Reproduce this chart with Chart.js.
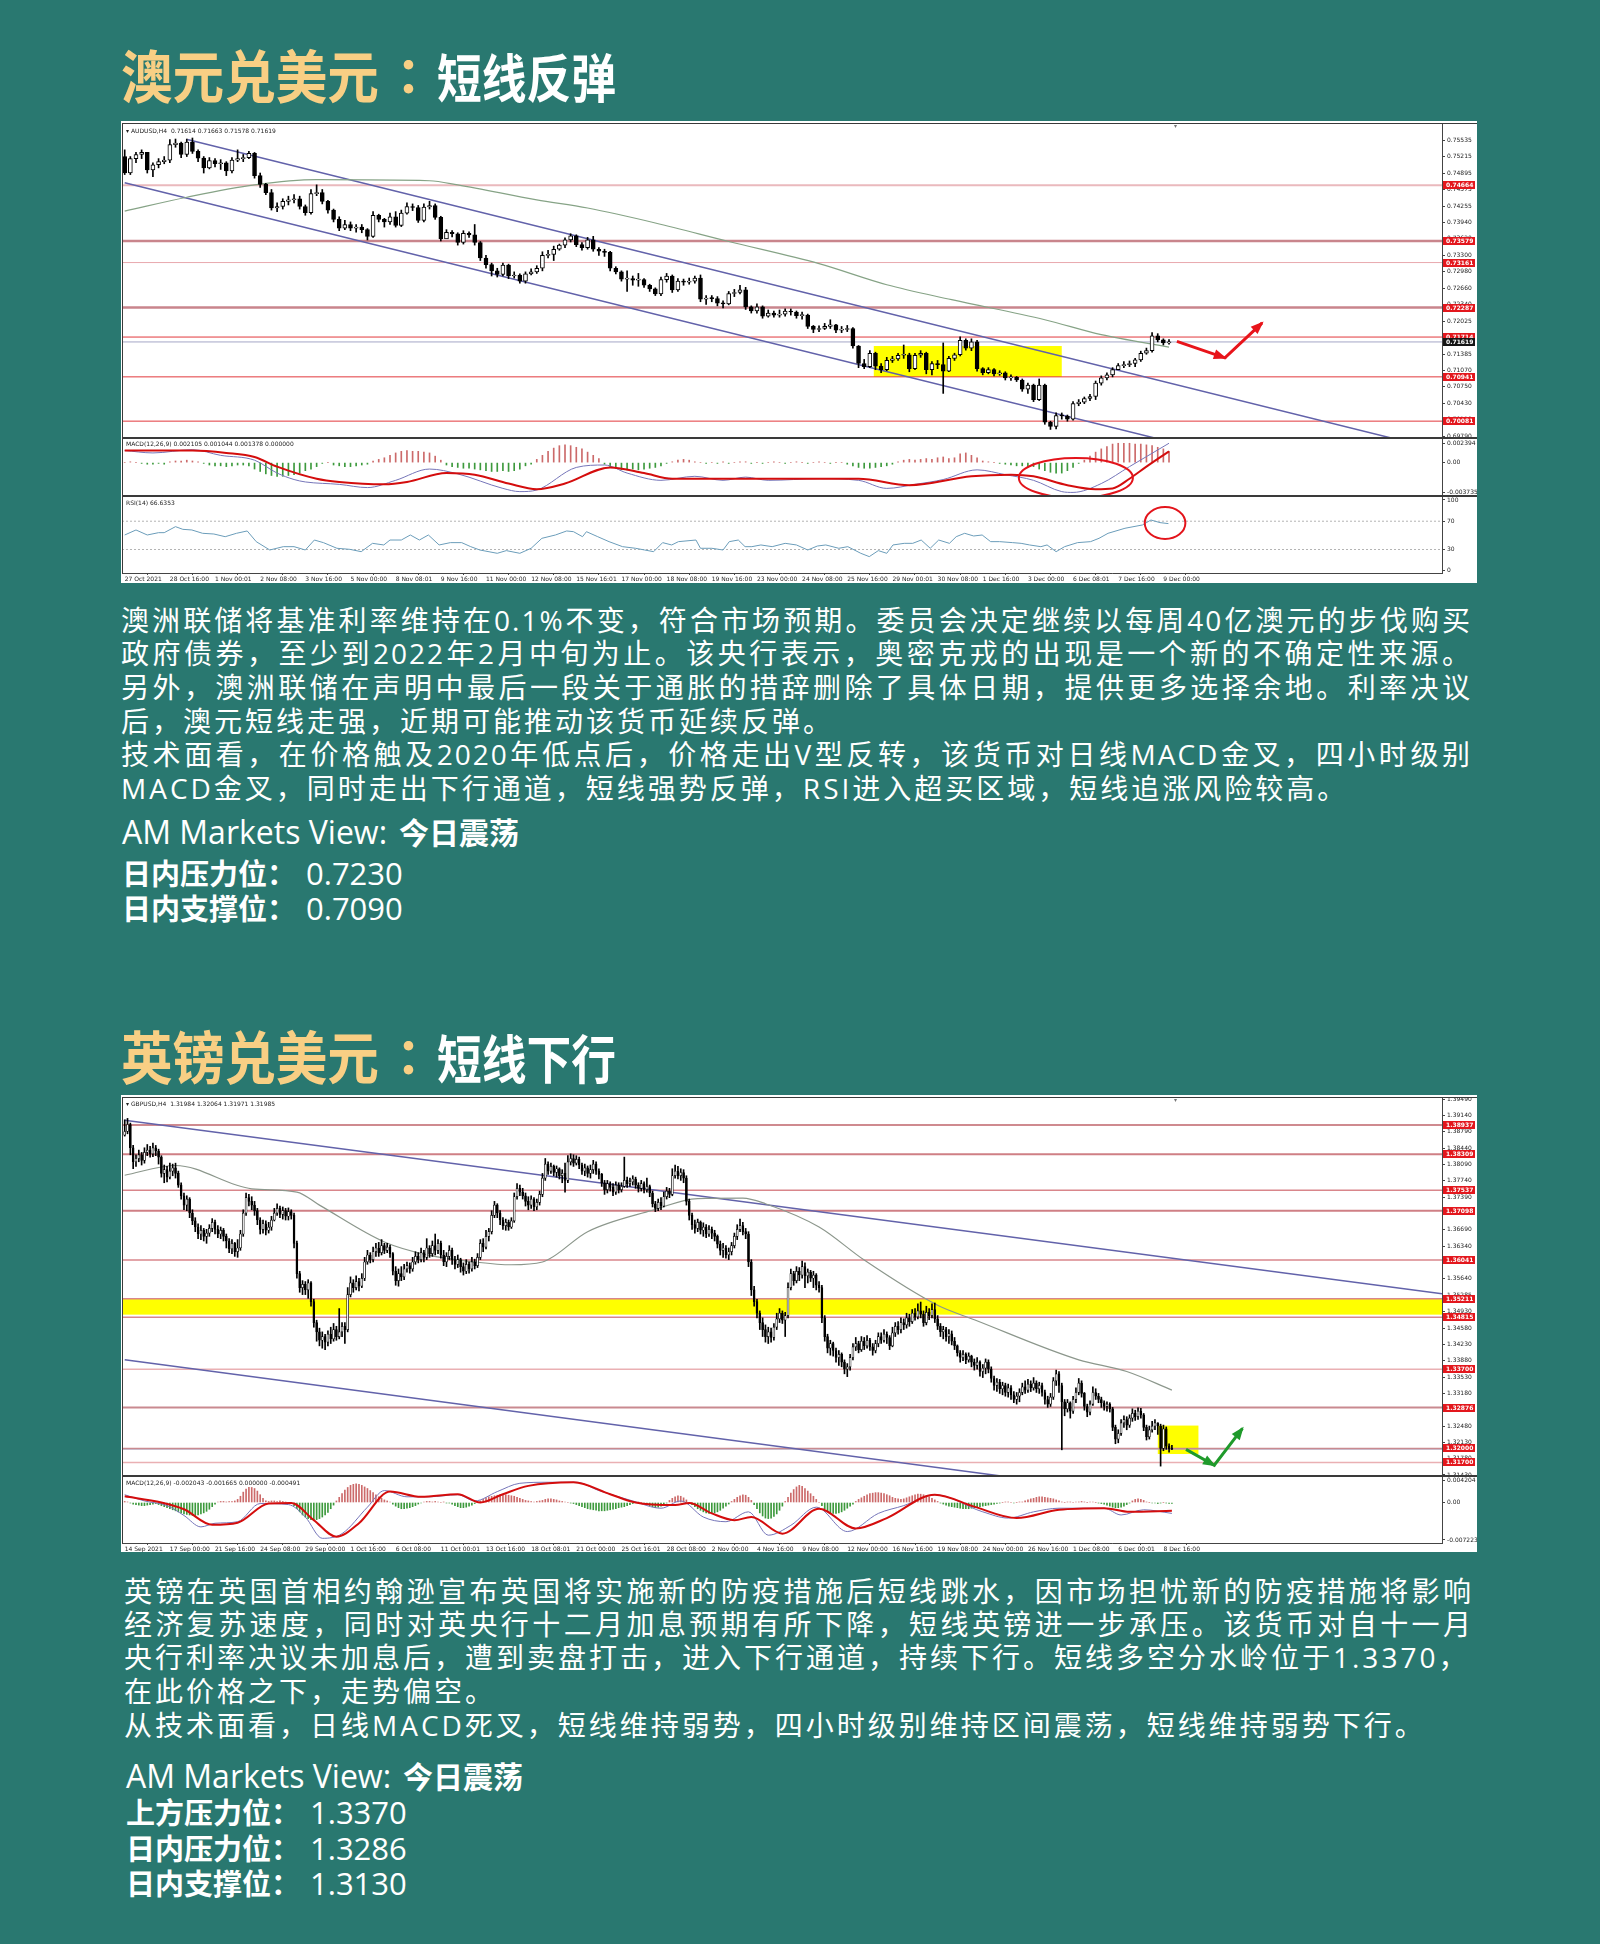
<!DOCTYPE html>
<html lang="zh-CN">
<head>
<meta charset="utf-8">
<title>澳元兑美元 / 英镑兑美元</title>
<script src="https://cdn.jsdelivr.net/npm/chart.js@4.4.1/dist/chart.umd.min.js"></script>
<style>
  html, body { margin: 0; padding: 0; }
  body { width: 1600px; height: 1944px; position: relative; overflow: hidden; background: #297870;
         font-family: "Noto Sans CJK SC", sans-serif; color: #fff; }
  .t { position: absolute; line-height: 1; white-space: nowrap; }
  .ti { position: absolute; line-height: 1; white-space: nowrap; font-weight: 700; transform-origin: 0 0; }
  .ti.o { left: 121px; font-size: 57px; transform: scaleX(0.905); color: #f8cf84; }
  .ti.c { left: 396px; font-size: 50px; color: #f8cf84; }
  .ti.w { left: 437px; font-size: 52px; transform: scaleX(0.86); color: #fff; }
  .p { font-size: 28px; letter-spacing: 3px; font-family: "Open Sans", "Noto Sans CJK SC", sans-serif; }
  .j { letter-spacing: 2px; text-align: justify; text-align-last: justify; }
  .view { font-size: 32px; font-family: "Open Sans", "Noto Sans CJK SC", sans-serif; }
  .view b { font-family: "Noto Sans CJK SC", sans-serif; font-size: 30px; font-weight: 700; margin-left: 12px; }
  .lv { font-size: 31px; font-family: "Open Sans", "Noto Sans CJK SC", sans-serif; }
  .lv b { font-family: "Noto Sans CJK SC", sans-serif; font-size: 29px; font-weight: 700; }
  .lv span { margin-left: 10px; }
  .box { position: absolute; left: 121px; width: 1356px; background: #fff; z-index: 0; }
  #charts { position: absolute; left: 0; top: 0; z-index: 1; }
  #charts canvas { position: absolute; }
  .ln { position: absolute; background: #3a3a3a; z-index: 2; }
  .cap { position: absolute; font: 6px "DejaVu Sans", sans-serif; color: #222; white-space: nowrap; line-height: 1; z-index: 2; }
</style>
</head>
<body>

<div class="ti o" style="top:45px">澳元兑美元</div>
<div class="ti c" style="top:46px">：</div>
<div class="ti w" style="top:50px">短线反弹</div>
<div class="box" style="top:121px;height:462px"></div>

<div class="t p j" style="left:121px;top:606px;width:1351px">澳洲联储将基准利率维持在0.1%不变，符合市场预期。委员会决定继续以每周40亿澳元的步伐购买</div>
<div class="t p j" style="left:121px;top:639px;width:1351px">政府债券，至少到2022年2月中旬为止。该央行表示，奥密克戎的出现是一个新的不确定性来源。</div>
<div class="t p j" style="left:121px;top:673px;width:1351px">另外，澳洲联储在声明中最后一段关于通胀的措辞删除了具体日期，提供更多选择余地。利率决议</div>
<div class="t p" style="left:121px;top:707px">后，澳元短线走强，近期可能推动该货币延续反弹。</div>
<div class="t p j" style="left:121px;top:740px;width:1351px">技术面看，在价格触及2020年低点后，价格走出V型反转，该货币对日线MACD金叉，四小时级别</div>
<div class="t p" style="left:121px;top:774px">MACD金叉，同时走出下行通道，短线强势反弹，RSI进入超买区域，短线追涨风险较高。</div>
<div class="t view" style="left:122px;top:816px">AM Markets View:<b>今日震荡</b></div>
<div class="t lv" style="left:122px;top:858px"><b>日内压力位：</b><span>0.7230</span></div>
<div class="t lv" style="left:122px;top:893px"><b>日内支撑位：</b><span>0.7090</span></div>

<div class="ti o" style="top:1026px">英镑兑美元</div>
<div class="ti c" style="top:1027px">：</div>
<div class="ti w" style="top:1031px">短线下行</div>
<div class="box" style="top:1095px;height:457px"></div>

<div class="t p j" style="left:124px;top:1577px;width:1349px">英镑在英国首相约翰逊宣布英国将实施新的防疫措施后短线跳水，因市场担忧新的防疫措施将影响</div>
<div class="t p j" style="left:124px;top:1610px;width:1349px">经济复苏速度，同时对英央行十二月加息预期有所下降，短线英镑进一步承压。该货币对自十一月</div>
<div class="t p" style="left:124px;top:1643px">央行利率决议未加息后，遭到卖盘打击，进入下行通道，持续下行。短线多空分水岭位于1.3370，</div>
<div class="t p" style="left:124px;top:1677px">在此价格之下，走势偏空。</div>
<div class="t p" style="left:124px;top:1711px">从技术面看，日线MACD死叉，短线维持弱势，四小时级别维持区间震荡，短线维持弱势下行。</div>
<div class="t view" style="left:126px;top:1760px">AM Markets View:<b>今日震荡</b></div>
<div class="t lv" style="left:126px;top:1797px"><b>上方压力位：</b><span>1.3370</span></div>
<div class="t lv" style="left:126px;top:1833px"><b>日内压力位：</b><span>1.3286</span></div>
<div class="t lv" style="left:126px;top:1868px"><b>日内支撑位：</b><span>1.3130</span></div>

<div id="charts"></div>

<!-- MT4 window frames -->
<div class="ln" style="left:122px;top:123px;width:1355px;height:1px"></div>
<div class="ln" style="left:122px;top:123px;width:1px;height:450px"></div>
<div class="ln" style="left:122px;top:437px;width:1355px;height:2px"></div>
<div class="ln" style="left:122px;top:495px;width:1355px;height:2px"></div>
<div class="ln" style="left:122px;top:1097px;width:1355px;height:1px"></div>
<div class="ln" style="left:122px;top:1097px;width:1px;height:446px"></div>
<div class="ln" style="left:122px;top:1475px;width:1355px;height:2px"></div>

<div class="cap" style="left:126px;top:128px">▾ AUDUSD,H4 &nbsp;0.71614 0.71663 0.71578 0.71619</div>
<div class="cap" style="left:126px;top:441px">MACD(12,26,9) 0.002105 0.001044 0.001378 0.000000</div>
<div class="cap" style="left:126px;top:500px">RSI(14) 66.6353</div>
<div class="cap" style="left:1174px;top:123px;color:#777">▾</div>
<div class="cap" style="left:126px;top:1101px">▾ GBPUSD,H4 &nbsp;1.31984 1.32064 1.31971 1.31985</div>
<div class="cap" style="left:126px;top:1480px">MACD(12,26,9) -0.002043 -0.001665 0.000000 -0.000491</div>
<div class="cap" style="left:1174px;top:1097px;color:#777">▾</div>

<script>
// ================= AUDUSD H4 =================
const audDates = ['27 Oct 2021','28 Oct 16:00','1 Nov 00:01','2 Nov 08:00','3 Nov 16:00','5 Nov 00:00',
  '8 Nov 08:01','9 Nov 16:00','11 Nov 00:00','12 Nov 08:00','15 Nov 16:01','17 Nov 00:00','18 Nov 08:00',
  '19 Nov 16:00','23 Nov 00:00','24 Nov 08:00','25 Nov 16:00','29 Nov 00:01','30 Nov 08:00','1 Dec 16:00',
  '3 Dec 00:00','6 Dec 08:01','7 Dec 16:00','9 Dec 00:00'];
const audFirstOpen = 0.7522;
const audClose = [
  0.7490,0.7518,0.7526,0.7530,0.7496,0.7506,0.7512,0.7515,0.7545,0.7548,
  0.7526,0.7550,0.7532,0.7519,0.7500,0.7514,0.7508,0.7510,0.7494,0.7515,
  0.7518,0.7520,0.7528,0.7485,0.7468,0.7452,0.7422,0.7425,0.7435,0.7438,
  0.7440,0.7425,0.7413,0.7450,0.7452,0.7435,0.7418,0.7400,0.7383,0.7390,
  0.7383,0.7385,0.7380,0.7367,0.7408,0.7400,0.7395,0.7405,0.7388,0.7412,
  0.7425,0.7423,0.7398,0.7424,0.7427,0.7404,0.7362,0.7375,0.7372,0.7355,
  0.7373,0.7370,0.7355,0.7325,0.7312,0.7300,0.7293,0.7311,0.7290,0.7292,
  0.7280,0.7294,0.7298,0.7305,0.7330,0.7332,0.7342,0.7350,0.7360,0.7368,
  0.7351,0.7345,0.7360,0.7342,0.7338,0.7336,0.7305,0.7298,0.7284,0.7285,
  0.7282,0.7283,0.7272,0.7265,0.7255,0.7283,0.7290,0.7263,0.7280,0.7278,
  0.7280,0.7286,0.7245,0.7247,0.7246,0.7237,0.7236,0.7256,0.7258,0.7263,
  0.7230,0.7222,0.7230,0.7212,0.7218,0.7214,0.7216,0.7222,0.7220,0.7213,
  0.7214,0.7192,0.7186,0.7188,0.7192,0.7195,0.7185,0.7186,0.7188,0.7154,
  0.7120,0.7114,0.7140,0.7115,0.7108,0.7126,0.7129,0.7136,0.7137,0.7110,
  0.7136,0.7140,0.7108,0.7120,0.7118,0.7105,0.7130,0.7137,0.7165,0.7150,
  0.7162,0.7110,0.7102,0.7108,0.7100,0.7102,0.7092,0.7093,0.7088,0.7070,
  0.7078,0.7050,0.7078,0.7006,0.6998,0.7019,0.7018,0.7012,0.7042,0.7045,
  0.7052,0.7056,0.7082,0.7092,0.7098,0.7108,0.7116,0.7118,0.7120,0.7127,
  0.7140,0.7145,0.7174,0.7166,0.7160,0.71619];
const audHigh = [
  0.7535,0.7522,0.7530,0.7535,0.7528,0.7510,0.7518,0.7522,0.7555,0.7556,
  0.7550,0.7556,0.7558,0.7535,0.7522,0.7520,0.7518,0.7516,0.7512,0.7520,
  0.7535,0.7526,0.7532,0.7530,0.7490,0.7470,0.7458,0.7432,0.7440,0.7445,
  0.7448,0.7445,0.7428,0.7458,0.7467,0.7458,0.7437,0.7420,0.7405,0.7398,
  0.7395,0.7390,0.7390,0.7382,0.7415,0.7410,0.7402,0.7412,0.7415,0.7418,
  0.7432,0.7430,0.7427,0.7430,0.7435,0.7430,0.7406,0.7380,0.7378,0.7374,
  0.7378,0.7376,0.7390,0.7357,0.7330,0.7315,0.7305,0.7315,0.7313,0.7298,
  0.7294,0.7298,0.7304,0.7310,0.7337,0.7340,0.7348,0.7352,0.7364,0.7372,
  0.7370,0.7355,0.7365,0.7367,0.7345,0.7342,0.7338,0.7308,0.7300,0.7300,
  0.7290,0.7295,0.7285,0.7274,0.7267,0.7288,0.7295,0.7292,0.7285,0.7284,
  0.7286,0.7290,0.7292,0.7252,0.7252,0.7250,0.7242,0.7260,0.7264,0.7272,
  0.7268,0.7232,0.7236,0.7232,0.7224,0.7222,0.7224,0.7226,0.7226,0.7222,
  0.7220,0.7216,0.7194,0.7193,0.7198,0.7205,0.7196,0.7192,0.7194,0.7190,
  0.7155,0.7128,0.7145,0.7142,0.7120,0.7132,0.7134,0.7140,0.7156,0.7140,
  0.7140,0.7145,0.7142,0.7124,0.7126,0.7160,0.7134,0.7140,0.7172,0.7168,
  0.7168,0.7165,0.7112,0.7112,0.7110,0.7106,0.7104,0.7098,0.7095,0.7090,
  0.7082,0.7080,0.7090,0.7080,0.7008,0.7024,0.7024,0.7020,0.7046,0.7050,
  0.7055,0.7060,0.7086,0.7096,0.7102,0.7112,0.7120,0.7124,0.7125,0.7130,
  0.7144,0.7150,0.7180,0.7178,0.7168,0.71663];
const audLow = [
  0.7487,0.7487,0.7510,0.7518,0.7490,0.7483,0.7500,0.7508,0.7510,0.7540,
  0.7520,0.7522,0.7528,0.7512,0.7490,0.7498,0.7502,0.7497,0.7485,0.7490,
  0.7512,0.7512,0.7518,0.7480,0.7462,0.7448,0.7418,0.7415,0.7420,0.7428,
  0.7432,0.7420,0.7408,0.7410,0.7446,0.7430,0.7412,0.7395,0.7378,0.7380,
  0.7378,0.7375,0.7374,0.7360,0.7365,0.7395,0.7385,0.7390,0.7385,0.7386,
  0.7410,0.7417,0.7394,0.7395,0.7420,0.7400,0.7358,0.7365,0.7366,0.7350,
  0.7352,0.7365,0.7350,0.7320,0.7305,0.7290,0.7288,0.7290,0.7285,0.7286,
  0.7276,0.7276,0.7292,0.7295,0.7300,0.7325,0.7320,0.7340,0.7345,0.7356,
  0.7347,0.7340,0.7342,0.7338,0.7330,0.7328,0.7300,0.7294,0.7280,0.7260,
  0.7272,0.7270,0.7268,0.7260,0.7252,0.7252,0.7278,0.7258,0.7260,0.7272,
  0.7274,0.7276,0.7240,0.7235,0.7240,0.7232,0.7228,0.7234,0.7250,0.7255,
  0.7225,0.7218,0.7218,0.7208,0.7210,0.7210,0.7210,0.7212,0.7214,0.7208,
  0.7206,0.7188,0.7180,0.7182,0.7186,0.7188,0.7180,0.7180,0.7182,0.7150,
  0.7112,0.7110,0.7112,0.7108,0.7102,0.7106,0.7122,0.7126,0.7130,0.7104,
  0.7108,0.7132,0.7100,0.7098,0.7110,0.7062,0.7104,0.7126,0.7135,0.7146,
  0.7145,0.7105,0.7098,0.7100,0.7096,0.7097,0.7088,0.7087,0.7085,0.7066,
  0.7062,0.7046,0.7048,0.7002,0.6992,0.6993,0.7012,0.7008,0.7010,0.7038,
  0.7042,0.7048,0.7050,0.7078,0.7088,0.7094,0.7108,0.7112,0.7114,0.7114,
  0.7124,0.7138,0.7142,0.7162,0.7156,0.71578];
// moving average and channel, as [bar, price]
const audMa = [[0,0.7416],[11,0.7443],[23,0.7467],[34,0.7477],[54,0.7475],[59,0.7467],[73,0.7438],
  [82,0.7422],[94,0.7393],[107,0.7357],[123,0.7314],[135,0.7273],[146.5,0.7244],[163,0.7205],
  [173,0.7176],[185,0.7152]];
const audChannelTop = [[11.1,0.7555],[224.5,0.6975]];
const audChannelBottom = [[0,0.7471],[182.6,0.6975]];
const audLevels = [0.74664,0.73579,0.73161,0.72287,0.71714,0.70941,0.70081];
const audLast = 0.71619;
const audPriceTicks = [0.75535,0.75215,0.74895,0.74575,0.74255,0.73940,0.73620,0.73300,0.72980,0.72660,
  0.72340,0.72025,0.71705,0.71385,0.71070,0.70750,0.70430,0.70110,0.69790];
const audZone = [132.7, 166, 0.7094, 0.7154];          // bars from/to, price low/high
const audArrow = [[186.4,0.7163],[194.9,0.7131],[201.5,0.7199]];
// MACD, values in 1e-4
const audMacdTicks = [0.002394, 0, -0.003735];
const audHist = [
  0,1,0,-1,-2,-2,-1,-2,1,2,
  2,3,2,1,-1,-3,-4,-4,-5,-4,
  -3,-3,-4,-8,-11,-14,-16,-17,-17,-16,
  -15,-13,-10,-8,-5,-1,0,-3,-4,-5,
  -5,-4,-3,-2,2,4,6,9,12,14,
  15,14,14,13,12,8,3,-3,-5,-6,
  -7,-7,-8,-9,-10,-11,-11,-10,-11,-10,
  -8,-4,-2,4,9,14,18,21,22,21,
  19,17,13,9,5,-2,-5,-7,-9,-9,
  -8,-9,-8,-7,-6,-4,-1,1,3,4,
  3,1,0,-1,0,-1,1,-1,0,1,
  1,-1,0,-1,0,1,0,-1,0,1,
  0,-1,0,1,0,-1,0,0,-2,-4,
  -6,-7,-7,-6,-5,-4,-2,1,3,4,
  3,4,5,4,6,7,5,6,11,12,
  9,6,2,1,0,-1,-2,-3,-4,-4,
  -6,-5,-8,-10,-12,-13,-13,-10,-6,-1,
  3,8,13,17,20,23,24,24,24,23,
  23,22,21,19,17,14];
const audMacd = [[0,15],[5,12],[12,16],[17,9],[23,3],[27,-13],[30,-21],[32,-24],[38,-27],[43,-31],
  [48,-22],[54,-8],[59,-14],[67,-32],[70,-36],[73,-34],[80,-6],[85,-3],[89,-13],[95,-22],[101,-17],
  [106,-22],[110,-18],[114,-22],[123,-20],[130,-22],[135,-32],[140,-27],[145,-21],[151,-9],[156,-15],
  [161,-22],[166,-36],[168,-37],[173,-26],[178,-5],[185,24]];
const audSignal = [[0,15],[12,15],[18,12],[23,7],[27,-5],[34,-20],[38,-24],[46,-27],[50,-24],[57,-13],
  [62,-15],[68,-26],[73,-33],[78,-26],[86,-6],[92,-13],[97,-20],[110,-20],[123,-20],[130,-20],[139,-28],
  [150,-17],[157,-15],[161,-17],[167,-28],[172,-33],[175,-32],[178,-20],[181,-5],[185,14]];
const audMacdRing = [168.5, -19, 10.1, 24.8];          // centre bar, centre value, half width, half height
// RSI(14) as [bar, value]
const audRsiTicks = [100, 70, 30, 0];
const audRsiLevels = [70, 30];
const audRsi = [[0,50.5],[2,57.6],[4,50.5],[6,53.8],[7,53.8],[9,62.3],[10.3,58.5],[11.9,57.6],[13.8,52.9],
  [15.8,51.9],[17.8,48.1],[19.8,52.9],[21.7,56.2],[23.3,41.1],[25.7,29.3],[28.1,34],[30,34],[32,29.3],
  [33.6,43.4],[35.2,39.7],[37.6,31.7],[39.9,30.2],[41.9,26.9],[43.9,38.7],[45.9,36.4],[47,43.4],[49,43.4],
  [50.6,50.5],[52.2,43.4],[53.8,50.5],[55.7,36.4],[57.7,39.7],[59.7,39.7],[61.3,34],[62.9,29.3],[66,24.6],
  [67.6,28.4],[70,24.6],[72,31.7],[73.9,45.8],[76.3,50.5],[78.3,56.2],[79.5,55.2],[81.1,48.1],[81.8,55.2],
  [83.8,48.1],[85.8,41.1],[88.2,34],[90.5,31.7],[92.1,29.3],[93.7,26.9],[95.3,39.7],[96.9,36.4],[98.1,41.1],
  [101.2,43.4],[102,31.7],[104,31.7],[106,29.3],[107.1,41.1],[108.7,43.4],[109.9,34],[111.1,34],[112.7,36.4],
  [114.7,34],[117,38.7],[119,36.4],[121,29.3],[122.7,34.9],[124.2,36.4],[126.5,31.7],[128.1,34],[130.4,24.6],
  [131.9,19.9],[133.5,28.4],[135,24.6],[136.1,36.4],[138.1,38.7],[139.6,38.7],[141.1,43.4],[142.7,31.7],
  [144.2,43.4],[146.1,38.7],[147.3,48.1],[148.8,52.9],[150.4,49.1],[151.9,50.5],[153.4,41.1],[155,41.1],
  [157.3,39.7],[158.8,38.7],[160.3,36.4],[162.3,34],[163.4,36.4],[165,26.9],[166.5,34],[168.8,39.7],
  [171.1,41.1],[172.6,45.8],[174.2,52.9],[177.2,60],[180.3,64.7],[181.8,71.7],[183.4,68],[184.9,66.6]];
const audRsiRing = [184.3, 67.5, 3.6, 22.6];

// ================= GBPUSD H4 =================
const gbpDates = ['14 Sep 2021','17 Sep 00:00','21 Sep 16:00','24 Sep 08:00','29 Sep 00:00','1 Oct 16:00',
  '6 Oct 08:00','11 Oct 00:01','13 Oct 16:00','18 Oct 08:01','21 Oct 00:00','25 Oct 16:01','28 Oct 08:00',
  '2 Nov 00:00','4 Nov 16:00','9 Nov 08:00','12 Nov 00:00','16 Nov 16:00','19 Nov 08:00','24 Nov 00:00',
  '26 Nov 16:00','1 Dec 08:00','6 Dec 00:01','8 Dec 16:00'];
const gbpFirstOpen = 1.3872;
const gbpClose = [
  1.3880,1.3895,1.3845,1.3815,1.3822,1.3830,1.3818,1.3835,1.3840,1.3832,
  1.3845,1.3838,1.3825,1.3790,1.3798,1.3782,1.3795,1.3802,1.3790,1.3765,
  1.3742,1.3722,1.3735,1.3705,1.3688,1.3675,1.3660,1.3668,1.3655,1.3662,
  1.3672,1.3685,1.3670,1.3660,1.3668,1.3655,1.3645,1.3628,1.3640,1.3622,
  1.3630,1.3660,1.3705,1.3738,1.3730,1.3722,1.3710,1.3690,1.3670,1.3682,
  1.3668,1.3675,1.3690,1.3705,1.3715,1.3702,1.3710,1.3698,1.3708,1.3700,
  1.3640,1.3575,1.3545,1.3552,1.3540,1.3555,1.3515,1.3470,1.3450,1.3432,
  1.3440,1.3428,1.3445,1.3435,1.3455,1.3440,1.3450,1.3462,1.3455,1.3530,
  1.3555,1.3545,1.3558,1.3548,1.3565,1.3600,1.3615,1.3605,1.3622,1.3630,
  1.3620,1.3635,1.3625,1.3632,1.3618,1.3580,1.3560,1.3575,1.3568,1.3585,
  1.3592,1.3585,1.3600,1.3612,1.3605,1.3620,1.3610,1.3630,1.3618,1.3635,
  1.3625,1.3640,1.3615,1.3600,1.3612,1.3625,1.3605,1.3595,1.3605,1.3590,
  1.3580,1.3595,1.3585,1.3600,1.3592,1.3610,1.3640,1.3632,1.3655,1.3665,
  1.3700,1.3722,1.3705,1.3690,1.3678,1.3685,1.3675,1.3688,1.3740,1.3758,
  1.3750,1.3742,1.3730,1.3722,1.3735,1.3718,1.3728,1.3745,1.3780,1.3810,
  1.3795,1.3805,1.3792,1.3800,1.3785,1.3790,1.3775,1.3815,1.3822,1.3812,
  1.3820,1.3808,1.3795,1.3802,1.3790,1.3798,1.3810,1.3795,1.3788,1.3770,
  1.3755,1.3768,1.3760,1.3750,1.3765,1.3755,1.3762,1.3775,1.3768,1.3772,
  1.3778,1.3765,1.3758,1.3768,1.3755,1.3762,1.3748,1.3725,1.3715,1.3728,
  1.3720,1.3740,1.3752,1.3745,1.3785,1.3795,1.3785,1.3792,1.3780,1.3730,
  1.3700,1.3680,1.3672,1.3685,1.3668,1.3675,1.3660,1.3670,1.3662,1.3655,
  1.3638,1.3625,1.3630,1.3615,1.3622,1.3635,1.3655,1.3670,1.3678,1.3665,
  1.3660,1.3600,1.3540,1.3515,1.3490,1.3470,1.3455,1.3440,1.3450,1.3438,
  1.3460,1.3478,1.3490,1.3475,1.3485,1.3545,1.3575,1.3560,1.3580,1.3572,
  1.3590,1.3570,1.3578,1.3565,1.3572,1.3550,1.3545,1.3480,1.3440,1.3415,
  1.3425,1.3410,1.3395,1.3402,1.3385,1.3370,1.3375,1.3395,1.3418,1.3425,
  1.3412,1.3430,1.3420,1.3432,1.3418,1.3410,1.3425,1.3440,1.3432,1.3445,
  1.3438,1.3420,1.3448,1.3462,1.3455,1.3470,1.3465,1.3480,1.3472,1.3490,
  1.3482,1.3495,1.3488,1.3470,1.3492,1.3485,1.3498,1.3478,1.3462,1.3450,
  1.3455,1.3440,1.3446,1.3430,1.3420,1.3405,1.3395,1.3402,1.3390,1.3398,
  1.3385,1.3378,1.3385,1.3365,1.3372,1.3385,1.3370,1.3350,1.3335,1.3342,
  1.3328,1.3335,1.3320,1.3330,1.3315,1.3305,1.3312,1.3320,1.3332,1.3325,
  1.3338,1.3330,1.3340,1.3328,1.3335,1.3320,1.3305,1.3295,1.3310,1.3345,
  1.3360,1.3335,1.3300,1.3285,1.3298,1.3280,1.3305,1.3320,1.3340,1.3318,
  1.3290,1.3278,1.3295,1.3320,1.3312,1.3305,1.3298,1.3290,1.3295,1.3285,
  1.3245,1.3220,1.3232,1.3255,1.3262,1.3250,1.3265,1.3275,1.3268,1.3280,
  1.3272,1.3245,1.3225,1.3240,1.3248,1.3255,1.3248,1.3200,1.3242,1.3205,
  1.3199,1.31985];
const gbpHigh = [
  1.3905,1.3908,1.3898,1.3850,1.3830,1.3840,1.3835,1.3845,1.3852,1.3848,
  1.3855,1.3850,1.3842,1.3828,1.3808,1.3805,1.3812,1.3810,1.3812,1.3795,
  1.3770,1.3748,1.3742,1.3738,1.3712,1.3695,1.3682,1.3678,1.3672,1.3670,
  1.3680,1.3693,1.3690,1.3678,1.3675,1.3672,1.3660,1.3650,1.3648,1.3642,
  1.3648,1.3668,1.3712,1.3748,1.3745,1.3740,1.3730,1.3715,1.3695,1.3690,
  1.3688,1.3685,1.3698,1.3715,1.3725,1.3720,1.3718,1.3715,1.3716,1.3712,
  1.3705,1.3645,1.3580,1.3560,1.3558,1.3562,1.3558,1.3520,1.3475,1.3458,
  1.3450,1.3445,1.3452,1.3460,1.3468,1.3462,1.3500,1.3470,1.3470,1.3545,
  1.3568,1.3562,1.3570,1.3565,1.3575,1.3610,1.3625,1.3620,1.3632,1.3640,
  1.3642,1.3648,1.3640,1.3640,1.3636,1.3620,1.3590,1.3585,1.3590,1.3595,
  1.3600,1.3598,1.3610,1.3622,1.3620,1.3630,1.3625,1.3650,1.3635,1.3645,
  1.3660,1.3648,1.3645,1.3625,1.3620,1.3635,1.3630,1.3612,1.3615,1.3608,
  1.3598,1.3605,1.3600,1.3610,1.3606,1.3618,1.3648,1.3650,1.3668,1.3672,
  1.3710,1.3730,1.3725,1.3710,1.3695,1.3692,1.3690,1.3695,1.3748,1.3768,
  1.3765,1.3758,1.3748,1.3740,1.3742,1.3738,1.3735,1.3752,1.3790,1.3822,
  1.3815,1.3812,1.3808,1.3806,1.3802,1.3798,1.3812,1.3828,1.3832,1.3830,
  1.3828,1.3825,1.3812,1.3810,1.3806,1.3808,1.3818,1.3815,1.3800,1.3790,
  1.3775,1.3775,1.3772,1.3768,1.3772,1.3770,1.3770,1.3825,1.3782,1.3780,
  1.3785,1.3782,1.3770,1.3775,1.3772,1.3780,1.3765,1.3752,1.3730,1.3735,
  1.3738,1.3750,1.3760,1.3758,1.3800,1.3808,1.3805,1.3800,1.3798,1.3785,
  1.3735,1.3705,1.3690,1.3692,1.3688,1.3684,1.3680,1.3678,1.3675,1.3668,
  1.3658,1.3645,1.3640,1.3635,1.3630,1.3642,1.3662,1.3680,1.3692,1.3685,
  1.3672,1.3665,1.3605,1.3548,1.3520,1.3495,1.3480,1.3465,1.3460,1.3458,
  1.3468,1.3490,1.3500,1.3495,1.3492,1.3555,1.3585,1.3580,1.3590,1.3588,
  1.3602,1.3598,1.3585,1.3582,1.3580,1.3575,1.3558,1.3550,1.3485,1.3445,
  1.3432,1.3428,1.3415,1.3410,1.3405,1.3390,1.3382,1.3402,1.3425,1.3438,
  1.3430,1.3440,1.3438,1.3442,1.3436,1.3425,1.3432,1.3448,1.3448,1.3455,
  1.3450,1.3442,1.3460,1.3470,1.3472,1.3480,1.3478,1.3490,1.3488,1.3498,
  1.3500,1.3510,1.3514,1.3495,1.3505,1.3500,1.3510,1.3512,1.3485,1.3468,
  1.3462,1.3460,1.3455,1.3452,1.3438,1.3422,1.3410,1.3410,1.3405,1.3405,
  1.3400,1.3392,1.3395,1.3388,1.3380,1.3392,1.3390,1.3375,1.3355,1.3350,
  1.3348,1.3342,1.3340,1.3338,1.3335,1.3322,1.3320,1.3328,1.3340,1.3345,
  1.3348,1.3345,1.3352,1.3345,1.3342,1.3340,1.3325,1.3312,1.3318,1.3352,
  1.3368,1.3365,1.3340,1.3305,1.3305,1.3300,1.3312,1.3330,1.3350,1.3345,
  1.3320,1.3295,1.3302,1.3332,1.3328,1.3318,1.3310,1.3302,1.3300,1.3298,
  1.3288,1.3250,1.3240,1.3262,1.3270,1.3268,1.3272,1.3285,1.3282,1.3287,
  1.3286,1.3275,1.3250,1.3248,1.3258,1.3262,1.3255,1.3252,1.3250,1.3246,
  1.3210,1.32064];
const gbpLow = [
  1.3870,1.3875,1.3830,1.3800,1.3805,1.3815,1.3808,1.3812,1.3828,1.3825,
  1.3826,1.3828,1.3810,1.3782,1.3770,1.3772,1.3778,1.3785,1.3780,1.3760,
  1.3735,1.3712,1.3710,1.3695,1.3680,1.3665,1.3650,1.3648,1.3645,1.3640,
  1.3655,1.3665,1.3660,1.3652,1.3650,1.3645,1.3630,1.3620,1.3618,1.3612,
  1.3610,1.3625,1.3655,1.3700,1.3720,1.3712,1.3700,1.3680,1.3660,1.3662,
  1.3658,1.3662,1.3668,1.3688,1.3700,1.3695,1.3692,1.3690,1.3690,1.3692,
  1.3630,1.3565,1.3535,1.3530,1.3530,1.3522,1.3505,1.3460,1.3430,1.3420,
  1.3415,1.3412,1.3420,1.3425,1.3430,1.3432,1.3435,1.3440,1.3425,1.3450,
  1.3525,1.3535,1.3540,1.3538,1.3545,1.3560,1.3595,1.3598,1.3600,1.3612,
  1.3612,1.3615,1.3618,1.3620,1.3610,1.3572,1.3550,1.3548,1.3560,1.3562,
  1.3578,1.3576,1.3580,1.3595,1.3598,1.3600,1.3600,1.3605,1.3610,1.3612,
  1.3615,1.3618,1.3608,1.3592,1.3590,1.3605,1.3595,1.3585,1.3588,1.3578,
  1.3572,1.3575,1.3576,1.3580,1.3585,1.3588,1.3605,1.3622,1.3628,1.3645,
  1.3660,1.3695,1.3695,1.3680,1.3670,1.3668,1.3668,1.3672,1.3685,1.3735,
  1.3742,1.3735,1.3720,1.3712,1.3715,1.3710,1.3712,1.3722,1.3740,1.3775,
  1.3788,1.3790,1.3785,1.3782,1.3778,1.3770,1.3750,1.3770,1.3808,1.3805,
  1.3808,1.3800,1.3788,1.3785,1.3782,1.3780,1.3790,1.3788,1.3778,1.3762,
  1.3745,1.3748,1.3752,1.3742,1.3745,1.3748,1.3750,1.3760,1.3760,1.3762,
  1.3765,1.3758,1.3750,1.3752,1.3748,1.3750,1.3740,1.3718,1.3708,1.3710,
  1.3712,1.3718,1.3735,1.3738,1.3742,1.3780,1.3778,1.3775,1.3770,1.3722,
  1.3690,1.3670,1.3662,1.3665,1.3660,1.3655,1.3652,1.3655,1.3650,1.3645,
  1.3630,1.3615,1.3610,1.3608,1.3605,1.3615,1.3630,1.3648,1.3665,1.3658,
  1.3650,1.3590,1.3528,1.3505,1.3480,1.3455,1.3440,1.3428,1.3425,1.3428,
  1.3432,1.3455,1.3470,1.3468,1.3440,1.3480,1.3540,1.3550,1.3555,1.3560,
  1.3565,1.3545,1.3555,1.3558,1.3545,1.3540,1.3535,1.3470,1.3430,1.3405,
  1.3400,1.3398,1.3385,1.3378,1.3375,1.3360,1.3354,1.3368,1.3390,1.3410,
  1.3405,1.3408,1.3412,1.3415,1.3410,1.3400,1.3405,1.3418,1.3425,1.3428,
  1.3425,1.3412,1.3418,1.3440,1.3445,1.3448,1.3455,1.3458,1.3462,1.3468,
  1.3475,1.3478,1.3480,1.3462,1.3465,1.3476,1.3480,1.3470,1.3455,1.3440,
  1.3435,1.3430,1.3425,1.3422,1.3412,1.3398,1.3385,1.3388,1.3382,1.3385,
  1.3375,1.3368,1.3370,1.3355,1.3352,1.3360,1.3362,1.3342,1.3325,1.3322,
  1.3318,1.3315,1.3312,1.3310,1.3305,1.3298,1.3295,1.3300,1.3315,1.3318,
  1.3320,1.3322,1.3325,1.3320,1.3318,1.3312,1.3295,1.3288,1.3290,1.3305,
  1.3335,1.3320,1.3197,1.3270,1.3278,1.3265,1.3275,1.3298,1.3315,1.3310,
  1.3282,1.3268,1.3272,1.3292,1.3305,1.3298,1.3288,1.3282,1.3280,1.3278,
  1.3238,1.3210,1.3212,1.3228,1.3245,1.3240,1.3245,1.3258,1.3260,1.3262,
  1.3265,1.3238,1.3218,1.3220,1.3235,1.3240,1.3230,1.3162,1.3195,1.3198,
  1.3192,1.31971];
const gbpMa = [[0,1.3786],[18,1.3807],[45,1.3757],[61,1.3750],[69,1.3722],[92,1.3643],[108,1.3614],
  [124,1.3600],[137,1.3594],[148,1.3600],[164,1.3665],[187,1.3711],[203,1.3736],[219,1.3737],[227,1.3725],
  [246,1.3675],[262,1.3604],[288,1.3507],[301,1.3476],[338,1.3390],[355,1.3365],[371,1.3325]];
const gbpChannelTop = [[0,1.3904],[466.7,1.3532]];
const gbpChannelBottom = [[0,1.3390],[311.5,1.3140]];
const gbpLevels = [1.38937,1.38309,1.37537,1.37098,1.36041,1.35211,1.34815,1.33700,1.32876,1.32000,1.31700];
const gbpLast = 1.31985;
const gbpPriceTicks = [1.39490,1.39140,1.38790,1.38440,1.38090,1.37740,1.37390,1.37040,1.36690,1.36340,
  1.35990,1.35640,1.35285,1.34930,1.34580,1.34230,1.33880,1.33530,1.33180,1.32830,1.32480,1.32130,
  1.31780,1.31430];
const gbpBand = [null, null, 1.3487, 1.3521];
const gbpZone = [366, 380.4, 1.3188, 1.3249];
const gbpArrow = [[376,1.3198],[386,1.3164],[396,1.3243]];
const gbpMacdTicks = [0.004204, 0, -0.007223];
const gbpHist = [
  2,1,-1,-3,-4,-5,-6,-6,-5,-4,
  -3,-2,-4,-6,-8,-10,-12,-14,-16,-18,
  -20,-22,-23,-24,-25,-25,-24,-22,-20,-17,
  -13,-8,-3,1,2,2,1,2,2,3,
  6,12,20,26,29,29,27,22,15,8,
  3,2,3,3,2,3,2,1,0,-2,
  -6,-12,-18,-24,-28,-31,-33,-34,-33,-31,
  -28,-24,-19,-12,-5,3,10,17,24,29,
  33,35,36,35,33,30,27,23,19,15,
  11,8,5,3,1,-3,-7,-10,-12,-12,
  -11,-10,-8,-6,-3,-1,1,2,2,1,
  2,1,0,1,-1,-1,-3,-6,-8,-10,
  -10,-9,-7,-5,-2,1,3,6,9,11,
  12,13,14,15,15,15,14,13,12,10,
  8,6,4,3,2,1,2,3,4,6,
  7,7,6,5,3,2,1,0,-1,-2,
  -4,-6,-8,-10,-12,-13,-14,-15,-16,-16,
  -16,-15,-14,-13,-12,-10,-9,-8,-6,-4,
  -2,0,1,0,-1,-3,-6,-8,-10,-9,
  -7,-4,-1,4,8,11,13,12,9,5,
  0,-4,-8,-12,-15,-18,-20,-21,-21,-20,
  -18,-15,-11,-7,-3,2,6,10,13,15,
  14,10,4,-4,-12,-20,-26,-30,-31,-30,
  -27,-22,-15,-7,2,10,18,25,30,33,
  31,27,22,17,12,6,0,-6,-12,-17,
  -20,-21,-21,-20,-18,-15,-11,-7,-3,2,
  6,9,12,15,17,18,19,19,18,17,
  15,13,10,8,7,6,7,9,11,13,
  15,16,16,15,13,11,8,5,2,-1,
  -3,-5,-7,-8,-9,-10,-11,-12,-12,-12,
  -11,-10,-9,-8,-7,-6,-5,-4,-3,-2,
  -1,0,1,1,0,-1,0,1,1,3,
  5,7,8,10,11,11,10,9,8,7,
  5,3,1,0,1,1,0,1,1,2,
  1,0,1,1,0,-1,-2,-3,-5,-7,
  -9,-10,-10,-9,-7,-4,-1,3,6,7,
  6,4,1,0,-1,-1,-2,-1,0,-1,
  -2,-2];
const gbpMacd = [[0,15],[7,3],[15,-6],[21,-25],[27,-47],[32,-40],[40,-37],[48,-2],[58,-4],[64,-28],
  [70,-69],[77,-60],[86,-9],[92,23],[100,11],[108,11],[118,15],[124,3],[132,21],[140,37],[150,39],
  [160,39],[168,23],[180,3],[190,-11],[197,3],[205,-28],[213,-37],[221,-18],[228,-63],[236,-44],
  [245,-9],[256,-56],[267,-21],[276,-6],[287,15],[304,-18],[313,-30],[322,-18],[331,-11],[347,-11],
  [353,-24],[361,-14],[371,-21]];
const gbpSignal = [[0,12],[13,0],[21,-13],[31,-43],[40,-39],[51,-2],[59,-1],[67,-34],[75,-66],[83,-40],
  [94,21],[105,11],[118,16],[126,0],[134,16],[143,32],[159,39],[172,16],[181,0],[195,-5],[200,-1],
  [208,-21],[216,-34],[222,-28],[233,-60],[246,-12],[259,-50],[270,-30],[287,15],[301,-8],[316,-30],
  [331,-14],[347,-11],[356,-18],[371,-16]];

// ================= drawing =================
const UNIT = 1e-4;
const FONT = {family: 'DejaVu Sans', size: 6};

function candles(close, high, low, firstOpen) {
  const body = [], wick = [], fill = [];
  close.forEach((c, i) => {
    const o = i ? close[i - 1] : firstOpen;
    body.push({x: i, y: [o, c]});
    wick.push({x: i, y: [low[i], high[i]]});
    fill.push(c >= o ? '#ffffff' : '#000000');
  });
  return {body, wick, fill};
}
const pts = (a, k = 1) => a.map(([x, y]) => ({x, y: y * k}));
const flat = (v, xr) => [{x: xr[0], y: v}, {x: xr[1], y: v}];
const line = (data, color, width, order, extra) =>
  Object.assign({type: 'line', data, borderColor: color, borderWidth: width, pointRadius: 0, order}, extra || {});
const smooth = {tension: 0.4, cubicInterpolationMode: 'monotone'};

function xAxis(xr, labels, step, show, h) {
  return {
    type: 'linear', min: xr[0], max: xr[1], offset: false, display: show,
    afterBuildTicks: s => { s.ticks = labels.map((_, k) => ({value: k * step})); },
    afterFit: s => { s.height = h; s.paddingLeft = 0; s.paddingRight = 0; },
    grid: {drawOnChartArea: false, drawTicks: true, tickLength: 2, color: '#444'},
    border: {display: true, color: '#444'},
    ticks: {autoSkip: false, maxRotation: 0, minRotation: 0, align: 'start', padding: 1,
            color: '#222', font: FONT, callback: (v, k) => labels[k]}
  };
}
function yAxis(min, max, ticks, fmt) {
  return {
    position: 'right', min, max,
    afterBuildTicks: s => { s.ticks = ticks.map(v => ({value: v})); },
    afterFit: s => { s.width = 35; s.paddingTop = 0; s.paddingBottom = 0; },
    grid: {drawOnChartArea: false, drawTicks: true, tickLength: 3, color: '#444'},
    border: {display: true, color: '#444'},
    ticks: {autoSkip: false, padding: 2, color: '#222', font: FONT, callback: fmt}
  };
}
const fmt5 = v => v.toFixed(5);
const fmtMacd = v => v === 0 ? '0.00' : v.toFixed(6);

// yellow areas behind the candles
function zonePlugin(zones) {
  return {id: 'zones', beforeDatasetsDraw(chart) {
    const {ctx, chartArea: a} = chart, {x, y} = chart.scales;
    ctx.save();
    ctx.fillStyle = '#ffff00';
    zones.forEach(([x0, x1, lo, hi]) => {
      const l = x0 == null ? a.left : x.getPixelForValue(x0);
      const r = x1 == null ? a.right : x.getPixelForValue(x1);
      const t = y.getPixelForValue(hi), b = y.getPixelForValue(lo);
      ctx.fillRect(l, t, r - l, b - t);
    });
    ctx.restore();
  }};
}
// price tags on the right axis
function tagPlugin(tags) {
  return {id: 'tags', afterDraw(chart) {
    const {ctx, chartArea: a} = chart, y = chart.scales.y;
    ctx.save();
    ctx.font = 'bold 6px "DejaVu Sans", sans-serif';
    ctx.textBaseline = 'middle';
    tags.forEach(([v, bg]) => {
      const py = Math.round(y.getPixelForValue(v));
      ctx.fillStyle = bg;
      ctx.fillRect(a.right + 1, py - 4, chart.width - a.right - 3, 8);
      ctx.fillStyle = '#fff';
      ctx.fillText(v.toFixed(5), a.right + 4, py + 0.5);
    });
    ctx.restore();
  }};
}
function ringPlugin(rings) {
  return {id: 'rings', afterDatasetsDraw(chart) {
    const {ctx} = chart, {x, y} = chart.scales;
    ctx.save();
    ctx.strokeStyle = '#e3141b';
    ctx.lineWidth = 2;
    rings.forEach(([cx, cy, dx, dy]) => {
      const px = x.getPixelForValue(cx), py = y.getPixelForValue(cy);
      const rx = Math.abs(x.getPixelForValue(cx + dx) - px);
      const ry = Math.abs(y.getPixelForValue(cy + dy) - py);
      ctx.beginPath();
      ctx.ellipse(px, py, rx, ry, 0, 0, Math.PI * 2);
      ctx.stroke();
    });
    ctx.restore();
  }};
}
function headPlugin(path, color) {
  return {id: 'heads', afterDatasetsDraw(chart) {
    const {ctx} = chart, {x, y} = chart.scales;
    const p = path.map(([a, b]) => [x.getPixelForValue(a), y.getPixelForValue(b)]);
    ctx.save();
    ctx.fillStyle = color;
    for (let k = 1; k < p.length; k++) {
      const [x0, y0] = p[k - 1], [x1, y1] = p[k];
      const ang = Math.atan2(y1 - y0, x1 - x0), c = Math.cos(ang), s = Math.sin(ang);
      ctx.beginPath();
      ctx.moveTo(x1 + 2 * c, y1 + 2 * s);
      ctx.lineTo(x1 - 11 * c + 5 * s, y1 - 11 * s - 5 * c);
      ctx.lineTo(x1 - 11 * c - 5 * s, y1 - 11 * s + 5 * c);
      ctx.closePath();
      ctx.fill();
    }
    ctx.restore();
  }};
}

function panel(left, top, w, h, xs, ys, datasets, plugins) {
  const c = document.createElement('canvas');
  c.width = w; c.height = h;
  c.style.left = left + 'px';
  c.style.top = top + 'px';
  document.getElementById('charts').appendChild(c);
  return new Chart(c, {
    type: 'bar',
    data: {datasets},
    options: {
      responsive: false, animation: false, events: [],
      layout: {padding: 0, autoPadding: false},
      plugins: {legend: {display: false}, tooltip: {enabled: false}},
      scales: {x: xs, y: ys}
    },
    plugins: plugins || []
  });
}

// ---- AUDUSD ----
const AX = [-0.4783, 233.36];
const ac = candles(audClose, audHigh, audLow, audFirstOpen);
const audLevelStyle = [['#eab9bd', 2], ['#c9858c', 2.5], ['#e9a9ae', 1], ['#c9858c', 2.5],
  ['#e2383c', 1], ['#e2383c', 1], ['#e2383c', 1]];
panel(122, 124, 1355, 313, xAxis(AX, audDates, 8, false, 0),
  yAxis(0.69773, 0.75852, audPriceTicks, fmt5), [
    line(pts(audArrow), '#e8141a', 3, -1),
    {data: ac.body, backgroundColor: ac.fill, borderColor: '#000', borderWidth: 1, borderSkipped: false,
     barThickness: 4, grouped: false, minBarLength: 1, order: 0},
    {data: ac.wick, backgroundColor: '#000', barThickness: 1, grouped: false, order: 1},
    line(pts(audMa), '#86a386', 1.2, 2, smooth),
    line(pts(audChannelTop), '#6262aa', 1.5, 2),
    line(pts(audChannelBottom), '#6262aa', 1.5, 2),
    ...audLevels.map((v, k) => line(flat(v, AX), audLevelStyle[k][0], audLevelStyle[k][1], 3)),
    line(flat(audLast, AX), '#a4a7c6', 1, 3)
  ], [zonePlugin([audZone]), headPlugin(audArrow, '#e8141a'),
      tagPlugin([...audLevels.map(v => [v, '#e3171d']), [audLast, '#151515']])]);

panel(122, 439, 1355, 56, xAxis(AX, audDates, 8, false, 0),
  yAxis(-0.004020, 0.002928, audMacdTicks, fmtMacd), [
    line(pts(audSignal, UNIT), '#d40d0d', 2, 0, smooth),
    line(pts(audMacd, UNIT), '#7575b9', 1, 1, smooth),
    {data: audHist.map((v, i) => ({x: i, y: v * UNIT})),
     backgroundColor: audHist.map(v => v >= 0 ? '#cc6a6a' : '#3d9a3d'),
     barThickness: 1, grouped: false, order: 2}
  ], [ringPlugin([[audMacdRing[0], audMacdRing[1] * UNIT, audMacdRing[2], audMacdRing[3] * UNIT]])]);

panel(122, 497, 1355, 86, xAxis(AX, audDates, 8, true, 10),
  yAxis(-3.25, 104.24, audRsiTicks, v => String(v)), [
    line(pts(audRsi), '#6b9dba', 1, 0),
    ...audRsiLevels.map(v => line(flat(v, AX), '#b4b4b4', 1, 1, {borderDash: [2, 2]}))
  ], [ringPlugin([audRsiRing])]);

// ---- GBPUSD ----
const GX = [-0.9566, 466.69];
const gc = candles(gbpClose, gbpHigh, gbpLow, gbpFirstOpen);
const gbpLevelStyle = [['#cf8a8f', 2], ['#cf7f85', 2], ['#d9868b', 1.5], ['#cf7f85', 2], ['#d9868b', 1.5],
  ['#d9868b', 1.5], ['#d9868b', 1.5], ['#eab0b3', 1.5], ['#c98a90', 2], ['#c98a90', 1.5], ['#eab0b3', 1.5]];
panel(122, 1098, 1355, 377, xAxis(GX, gbpDates, 16, false, 0),
  yAxis(1.314295, 1.395179, gbpPriceTicks, fmt5), [
    line(pts(gbpArrow), '#1f9a2b', 3, -1),
    {data: gc.body, backgroundColor: gc.fill, borderColor: '#000', borderWidth: 0.7, borderSkipped: false,
     barThickness: 2, grouped: false, minBarLength: 1, order: 0},
    {data: gc.wick, backgroundColor: '#000', barThickness: 1, grouped: false, order: 1},
    line(pts(gbpMa), '#8c978c', 1.2, 2, smooth),
    line(pts(gbpChannelTop), '#6262aa', 1.5, 2),
    line(pts(gbpChannelBottom), '#6262aa', 1.5, 2),
    ...gbpLevels.map((v, k) => line(flat(v, GX), gbpLevelStyle[k][0], gbpLevelStyle[k][1], 3)),
    line(flat(gbpLast, GX), '#a4a7c6', 1, 3)
  ], [zonePlugin([gbpBand, gbpZone]), headPlugin(gbpArrow, '#1f9a2b'),
      tagPlugin(gbpLevels.map(v => [v, '#e3171d']))]);

panel(122, 1477, 1355, 75, xAxis(GX, gbpDates, 16, true, 9),
  yAxis(-0.007803, 0.004913, gbpMacdTicks, fmtMacd), [
    line(pts(gbpSignal, UNIT), '#d40d0d', 2, 0, smooth),
    line(pts(gbpMacd, UNIT), '#7575b9', 1, 1, smooth),
    {data: gbpHist.map((v, i) => ({x: i, y: v * UNIT})),
     backgroundColor: gbpHist.map(v => v >= 0 ? '#cc6a6a' : '#3d9a3d'),
     barThickness: 1, grouped: false, order: 2}
  ]);
</script>
</body>
</html>
